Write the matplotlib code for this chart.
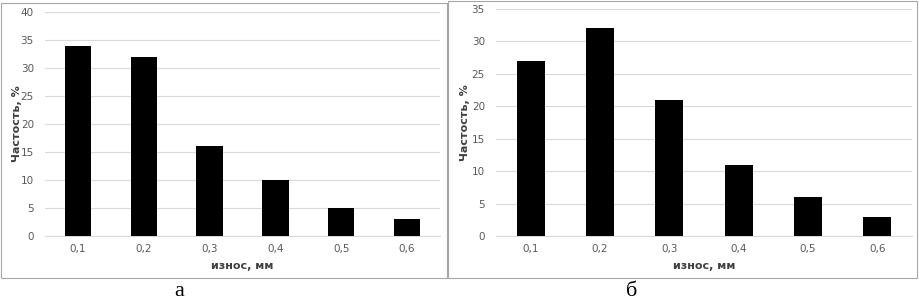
import matplotlib.pyplot as plt
from matplotlib.patches import Rectangle

cats = ["0,1", "0,2", "0,3", "0,4", "0,5", "0,6"]
freq_a = [34, 32, 16, 10, 5, 3]
freq_b = [27, 32, 21, 11, 6, 3]

W, H = 919, 300
fig = plt.figure(figsize=(W / 100, H / 100), dpi=100)


def px(x0, y0, x1, y1):
    # pixel box -> figure fraction [left, bottom, width, height]
    return [x0 / W, 1 - y1 / H, (x1 - x0) / W, (y1 - y0) / H]


def panel(box, vals, ymax, ylab_x, letter, letter_x):
    ax = fig.add_axes(px(*box))
    x = range(len(vals))
    ax.bar(x, vals, width=0.4, color="black", zorder=3)
    ax.set_xlim(-0.5, len(vals) - 0.5)
    ax.set_ylim(0, ymax)
    ax.set_yticks(range(0, ymax + 1, 5))
    ax.set_xticks(list(x))
    ax.set_xticklabels(cats)
    ax.grid(axis="y", color="#d9d9d9", linewidth=0.8, zorder=0)
    for s in ["top", "right", "left"]:
        ax.spines[s].set_visible(False)
    ax.spines["bottom"].set_color("#d9d9d9")
    ax.tick_params(length=0, labelsize=7.5, labelcolor="#595959", pad=6)
    ax.tick_params(axis="y", pad=8)
    ax.set_xlabel("износ, мм", fontsize=8, fontweight="bold", color="#404040", labelpad=5)
    ax.set_ylabel("Частость, %", fontsize=8, fontweight="bold", color="#404040")
    ax.yaxis.set_label_coords((ylab_x - box[0]) / (box[2] - box[0]), 0.5)
    fig.text(letter_x / W, 1 - 291 / H, letter, ha="center", va="center",
             fontsize=16, family="Liberation Serif")
    return ax


# chart borders
fig.add_artist(Rectangle((1 / W, 1 - 278 / H), 446 / W, 275 / H, transform=fig.transFigure,
                         fill=False, edgecolor="#a6a6a6", linewidth=0.8))
fig.add_artist(Rectangle((448 / W, 1 - 278 / H), 469 / W, 277 / H, transform=fig.transFigure,
                         fill=False, edgecolor="#a6a6a6", linewidth=0.8))

panel((45, 12, 440, 236), freq_a, 40, 22, "а", 179)
panel((496, 9, 912, 236), freq_b, 35, 470, "б", 632)

fig.savefig("out.png", dpi=100)
